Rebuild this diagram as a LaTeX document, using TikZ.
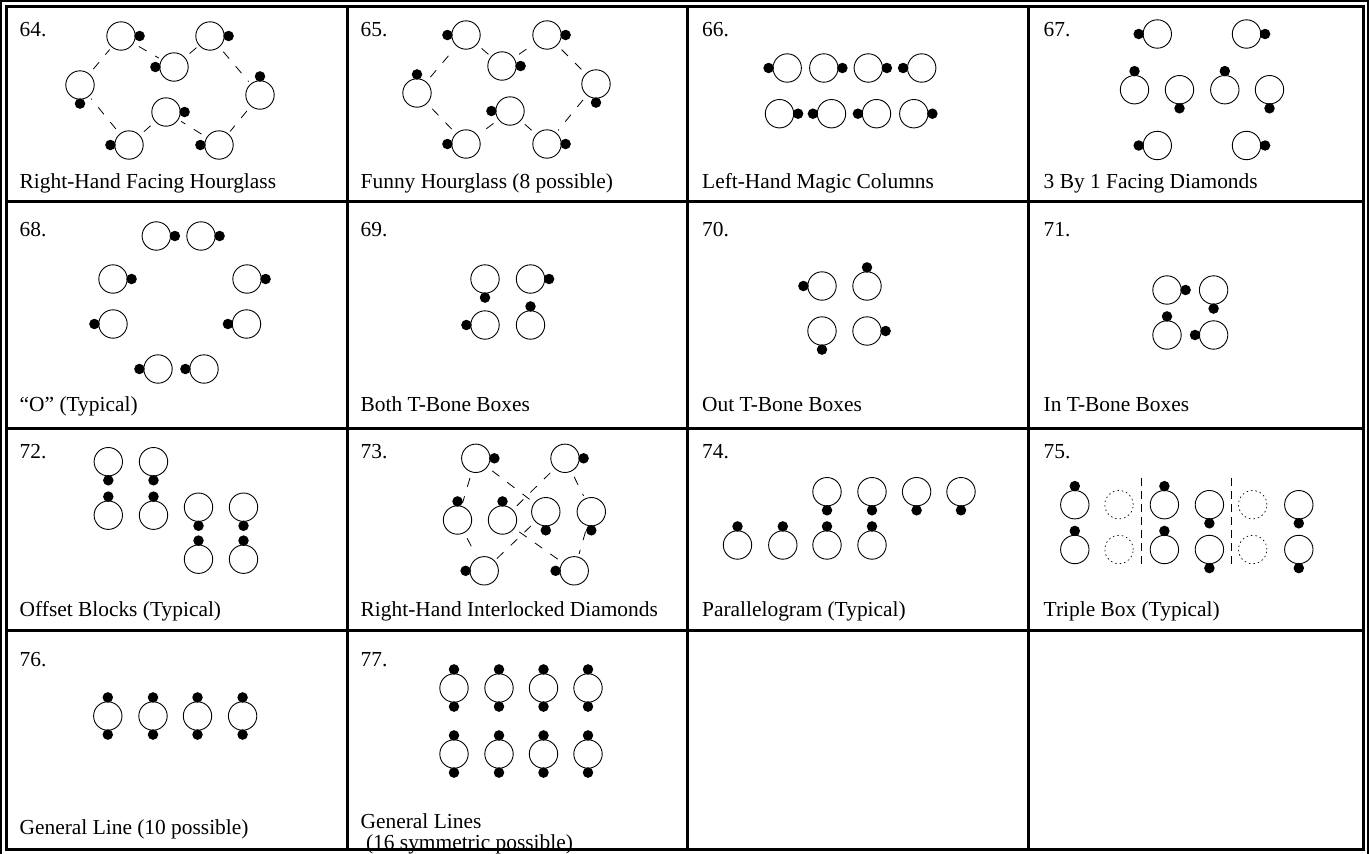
\documentclass[tikz,border=0pt]{standalone}
\usepackage{fontspec}
\setmainfont{Liberation Serif}
\newcommand\dancerat[3]{\node[dancer] (#1) at (#2) {};\node[dot] (#1d) at ([shift={(#3:18.6pt)}]#1.center) {};}
\newcommand\ghostat[2]{\node[ghost] (#1) at (#2) {};}
\begin{document}
\begin{tikzpicture}[x=1pt,y=-1pt,
  dancer/.style={circle, draw, line width=0.9pt, minimum size=28.4pt, inner sep=0pt},
  ghost/.style={circle, draw, line width=0.7pt, dash pattern=on 1.5pt off 3pt, minimum size=28.4pt, inner sep=0pt},
  dot/.style={circle, fill, minimum size=10.5pt, inner sep=0pt},
  conn/.style={line width=0.8pt, dash pattern=on 9pt off 10pt, shorten <=6pt, shorten >=3pt},
  vsep/.style={line width=0.8pt, dash pattern=on 8pt off 5pt},
  lbl/.style={anchor=base west, inner sep=0pt, font=\fontsize{21.4}{25}\selectfont},
  gridline/.style={line width=3pt}]
\useasboundingbox (0,0) rectangle (1369,854);
% borders
\draw[line width=2pt] (1,1) rectangle (1368,858);
\draw[gridline] (6.5,6.5) rectangle (1363.5,849.5);
\foreach \x in {347,687.7,1028.2} \draw[gridline] (\x,6.5) -- (\x,849.5);
\foreach \y in {201,428.3,630} \draw[gridline] (6.5,\y) -- (1363.5,\y);
% ---------- 64
\node[lbl] (n64) at (19.5,36.7) {64.};
\node[lbl] (t64) at (19.5,188.3) {Right-Hand Facing Hourglass};
\dancerat{a64}{121,36}{0}
\dancerat{b64}{210,36}{0}
\dancerat{c64}{174,67}{180}
\dancerat{d64}{80,85}{-90}
\dancerat{e64}{260,95}{90}
\dancerat{f64}{166,112}{0}
\dancerat{g64}{129,145}{180}
\dancerat{h64}{219,145}{180}
\draw[conn] (a64)--(c64); \draw[conn] (c64)--(b64); \draw[conn] (b64)--(e64); \draw[conn] (e64)--(h64);
\draw[conn] (h64)--(f64); \draw[conn] (f64)--(g64); \draw[conn] (g64)--(d64); \draw[conn] (d64)--(a64);
% ---------- 65
\node[lbl] (n65) at (360.5,36.7) {65.};
\node[lbl] (t65) at (360.5,188.3) {Funny Hourglass (8 possible)};
\dancerat{a65}{466,35}{180}
\dancerat{b65}{547,35}{0}
\dancerat{c65}{502,66}{0}
\dancerat{d65}{417,93}{90}
\dancerat{e65}{596,84}{-90}
\dancerat{f65}{510,111}{180}
\dancerat{g65}{466,144}{180}
\dancerat{h65}{547,144}{0}
\draw[conn] (a65)--(c65); \draw[conn] (c65)--(b65); \draw[conn] (b65)--(e65); \draw[conn] (e65)--(h65);
\draw[conn] (h65)--(f65); \draw[conn] (f65)--(g65); \draw[conn] (g65)--(d65); \draw[conn] (d65)--(a65);
% ---------- 66
\node[lbl] (n66) at (702,36.7) {66.};
\node[lbl] (t66) at (702,188.3) {Left-Hand Magic Columns};
\dancerat{a66}{787.2,68}{180}
\dancerat{b66}{823.8,68}{0}
\dancerat{c66}{868.3,68}{0}
\dancerat{d66}{921.7,68}{180}
\dancerat{e66}{779.5,113.7}{0}
\dancerat{f66}{831.5,113.7}{180}
\dancerat{g66}{876.5,113.7}{180}
\dancerat{h66}{913.8,113.7}{0}
% ---------- 67
\node[lbl] (n67) at (1043.5,36.7) {67.};
\node[lbl] (t67) at (1043.5,188.3) {3 By 1 Facing Diamonds};
\dancerat{a67}{1157.3,34}{180}
\dancerat{b67}{1246.5,34}{0}
\dancerat{c67}{1134.5,89.7}{90}
\dancerat{d67}{1179.5,89.7}{-90}
\dancerat{e67}{1224.8,89.7}{90}
\dancerat{f67}{1269.5,89.7}{-90}
\dancerat{g67}{1157.3,145.5}{180}
\dancerat{h67}{1246.5,145.5}{0}
% ---------- 68
\node[lbl] (n68) at (19.5,236.7) {68.};
\node[lbl] (t68) at (19.5,411) {“O” (Typical)};
\dancerat{a68}{156.3,236}{0}
\dancerat{b68}{201,236}{0}
\dancerat{c68}{113,279}{0}
\dancerat{d68}{247,279}{0}
\dancerat{e68}{113,324}{180}
\dancerat{f68}{246.5,324}{180}
\dancerat{g68}{158,369}{180}
\dancerat{h68}{204,369}{180}
% ---------- 69
\node[lbl] (n69) at (360.5,236.7) {69.};
\node[lbl] (t69) at (360.5,411) {Both T-Bone Boxes};
\dancerat{a69}{485,279}{-90}
\dancerat{b69}{530.5,279}{0}
\dancerat{c69}{485,325}{180}
\dancerat{d69}{530.5,325}{90}
% ---------- 70
\node[lbl] (n70) at (702,236.7) {70.};
\node[lbl] (t70) at (702,411) {Out T-Bone Boxes};
\dancerat{a70}{822,286}{180}
\dancerat{b70}{867,286}{90}
\dancerat{c70}{822,331}{-90}
\dancerat{d70}{867,331}{0}
% ---------- 71
\node[lbl] (n71) at (1043.5,236.7) {71.};
\node[lbl] (t71) at (1043.5,411) {In T-Bone Boxes};
\dancerat{a71}{1167,290}{0}
\dancerat{b71}{1213.6,290}{-90}
\dancerat{c71}{1167,335}{90}
\dancerat{d71}{1213.6,335}{180}
% ---------- 72
\node[lbl] (n72) at (19.5,458) {72.};
\node[lbl] (t72) at (19.5,616) {Offset Blocks (Typical)};
\dancerat{a72}{108.3,461.7}{-90}
\dancerat{b72}{153.5,461.7}{-90}
\dancerat{c72}{108.3,515.2}{90}
\dancerat{d72}{153.5,515.2}{90}
\dancerat{e72}{198.5,507.2}{-90}
\dancerat{f72}{243.5,507.2}{-90}
\dancerat{g72}{198.5,559.2}{90}
\dancerat{h72}{243.5,559.2}{90}
% ---------- 73
\node[lbl] (n73) at (360.5,458) {73.};
\node[lbl] (t73) at (360.5,616) {Right-Hand Interlocked Diamonds};
\dancerat{a73}{475.8,458.3}{0}
\dancerat{b73}{565,458.3}{0}
\dancerat{c73}{457.5,520}{90}
\dancerat{d73}{502.5,520}{90}
\dancerat{e73}{545.8,511.7}{-90}
\dancerat{f73}{591.3,511.7}{-90}
\dancerat{g73}{484.2,570.8}{180}
\dancerat{h73}{574.2,570.8}{180}
\draw[conn] (a73)--(c73); \draw[conn] (a73)--(e73); \draw[conn] (b73)--(d73); \draw[conn] (b73)--(f73);
\draw[conn] (c73)--(g73); \draw[conn] (e73)--(g73); \draw[conn] (d73)--(h73); \draw[conn] (f73)--(h73);
% ---------- 74
\node[lbl] (n74) at (702,458) {74.};
\node[lbl] (t74) at (702,616) {Parallelogram (Typical)};
\dancerat{a74}{827,491.7}{-90}
\dancerat{b74}{872,491.7}{-90}
\dancerat{c74}{916.6,491.7}{-90}
\dancerat{d74}{961,491.7}{-90}
\dancerat{e74}{737.5,545}{90}
\dancerat{f74}{782.8,545}{90}
\dancerat{g74}{827,545}{90}
\dancerat{h74}{872,545}{90}
% ---------- 75
\node[lbl] (n75) at (1043.5,458) {75.};
\node[lbl] (t75) at (1043.5,616) {Triple Box (Typical)};
\dancerat{a75}{1074.8,504.7}{90}
\dancerat{b75}{1074.8,549.5}{90}
\ghostat{c75}{1119,504.7}
\ghostat{d75}{1119,549.5}
\dancerat{e75}{1164.4,504.7}{90}
\dancerat{f75}{1164.4,549.5}{90}
\dancerat{g75}{1209.4,504.7}{-90}
\dancerat{h75}{1209.4,549.5}{-90}
\ghostat{i75}{1252.7,504.7}
\ghostat{j75}{1252.7,549.5}
\dancerat{k75}{1298.8,504.7}{-90}
\dancerat{l75}{1298.8,549.5}{-90}
\coordinate (s1top) at (1141.3,478); \coordinate (s1bot) at (1141.3,567);
\coordinate (s2top) at (1231.4,478); \coordinate (s2bot) at (1231.4,567);
\draw[vsep] (s1top)--(s1bot); \draw[vsep] (s2top)--(s2bot);
% ---------- 76
\node[lbl] (n76) at (19.5,666.7) {76.};
\node[lbl] (t76) at (19.5,834) {General Line (10 possible)};
\foreach \i/\x in {1/107.8,2/153,3/197.5,4/242.6}{
  \node[dancer] (p76\i) at (\x,716) {};
  \node[dot] (p76\i n) at ([shift={(90:18.6pt)}]p76\i.center) {};
  \node[dot] (p76\i s) at ([shift={(-90:18.6pt)}]p76\i.center) {};
}
% ---------- 77
\node[lbl] (n77) at (360.5,666.7) {77.};
\node[lbl] (t77) at (360.5,828.5) {General Lines};
\node[lbl] (u77) at (360.5,849) {\ (16 symmetric possible)};
\foreach \r/\y in {1/688,2/754}{
\foreach \i/\x in {1/454,2/499,3/543.5,4/588}{
  \node[dancer] (q77\r\i) at (\x,\y) {};
  \node[dot] (q77\r\i n) at ([shift={(90:18.6pt)}]q77\r\i.center) {};
  \node[dot] (q77\r\i s) at ([shift={(-90:18.6pt)}]q77\r\i.center) {};
}}
\end{tikzpicture}
\end{document}
